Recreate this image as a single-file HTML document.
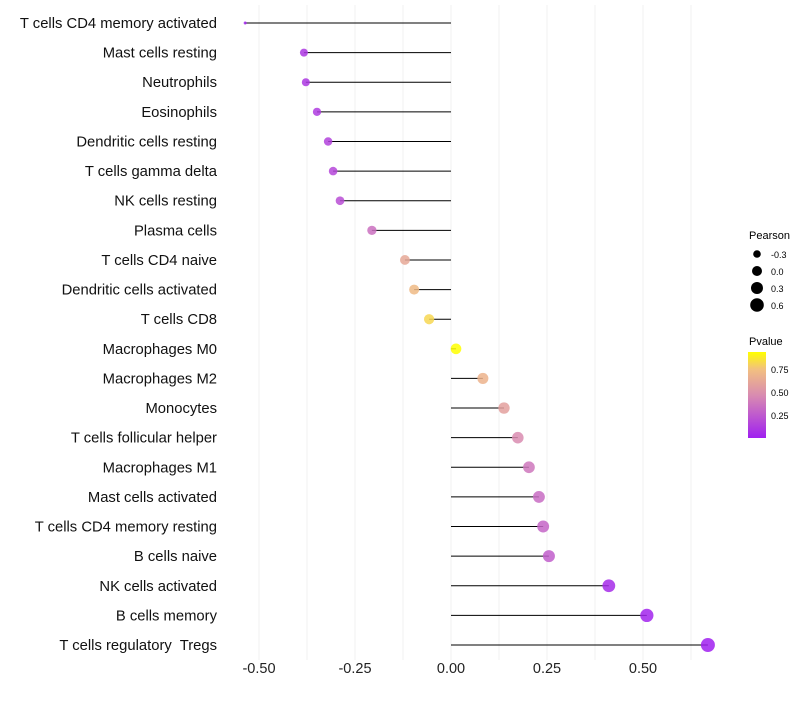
<!DOCTYPE html>
<html><head><meta charset="utf-8"><style>
body{margin:0;background:#fff}
svg text{font-family:"Liberation Sans",sans-serif;white-space:pre}
</style></head><body>
<svg id="chart" width="800" height="700" xmlns="http://www.w3.org/2000/svg">
<defs><linearGradient id="pg" x1="0" y1="1" x2="0" y2="0">
<stop offset="0" stop-color="#a020f0"/><stop offset="0.5" stop-color="#d98cb0"/><stop offset="0.8" stop-color="#f2c080"/><stop offset="1" stop-color="#ffff00"/>
</linearGradient></defs>
<g id="grid"></g><g id="marks"></g><g id="labels"></g>
<g>
<text x="749" y="239" font-size="11">Pearson</text>
<circle cx="757" cy="254" r="3.8"/><text x="771" y="258" font-size="9">-0.3</text>
<circle cx="757" cy="271" r="5"/><text x="771" y="275" font-size="9">0.0</text>
<circle cx="757" cy="288" r="6"/><text x="771" y="292" font-size="9">0.3</text>
<circle cx="757" cy="305" r="6.8"/><text x="771" y="309" font-size="9">0.6</text>
</g>
<g>
<text x="749" y="345" font-size="11">Pvalue</text>
<rect x="748" y="352" width="18" height="86" fill="url(#pg)"/>
<text x="771" y="373" font-size="9">0.75</text>
<text x="771" y="396" font-size="9">0.50</text>
<text x="771" y="419" font-size="9">0.25</text>
</g>
</svg>
<script>
const cells=["T cells CD4 memory activated","Mast cells resting","Neutrophils","Eosinophils","Dendritic cells resting","T cells gamma delta","NK cells resting","Plasma cells","T cells CD4 naive","Dendritic cells activated","T cells CD8","Macrophages M0","Macrophages M2","Monocytes","T cells follicular helper","Macrophages M1","Mast cells activated","T cells CD4 memory resting","B cells naive","NK cells activated","B cells memory","T cells regulatory  Tregs"];
const pearson=[-0.536,-0.383,-0.378,-0.349,-0.320,-0.307,-0.289,-0.206,-0.120,-0.096,-0.057,0.013,0.083,0.138,0.174,0.203,0.229,0.240,0.255,0.411,0.510,0.669];
const pvalue=[0.02,0.1,0.1,0.12,0.15,0.17,0.2,0.35,0.62,0.72,0.82,0.95,0.68,0.58,0.47,0.38,0.33,0.3,0.27,0.05,0.02,0.001];
const ticks=[-0.5,-0.25,0,0.25,0.5];
const tickLabels=["-0.50","-0.25","0.00","0.25","0.50"];
const NS="http://www.w3.org/2000/svg";
const x=v=>451+v*384;
const y=i=>23+i*(622/21);
const r=v=>v>=-0.383?Math.sqrt(16+31.4*(v+0.383)):Math.max(1.5,4-(-0.383-v)*16.3);
function lerp(a,b,t){return a.map((c,k)=>Math.round(c+(b[k]-c)*t));}
function col(p){const t=Math.min(1,Math.max(0,p/0.94));
 const s=[[0,[160,32,240]],[0.5,[217,140,176]],[0.8,[242,192,128]],[1,[255,255,0]]];
 for(let k=1;k<s.length;k++){if(t<=s[k][0]){const c=lerp(s[k-1][1],s[k][1],(t-s[k-1][0])/(s[k][0]-s[k-1][0]));return `rgb(${c})`;}}
 return "rgb(255,255,0)";}
function mk(tag,at,parent){const e=document.createElementNS(NS,tag);for(const k in at)e.setAttribute(k,at[k]);document.getElementById(parent).appendChild(e);return e;}
for(let v=-0.5;v<=0.626;v+=0.125){const g=mk("line",{x1:x(v),x2:x(v),y1:5,y2:660,stroke:"#f0f0f0","stroke-width":1},"grid");

}
ticks.forEach((t,i)=>{const e=mk("text",{x:x(t),y:673,"font-size":14.5,"text-anchor":"middle",fill:"#222"},"labels");e.textContent=tickLabels[i];

});
cells.forEach((c,i)=>{
 const l=mk("line",{x1:x(0),x2:x(pearson[i]),y1:y(i),y2:y(i),stroke:"#000","stroke-width":1},"marks");
 
 
 const p=mk("circle",{cx:x(pearson[i]),cy:y(i),r:r(pearson[i]),fill:col(pvalue[i]),"fill-opacity":0.85},"marks");
 
 
 const t=mk("text",{x:217,y:y(i)+5,"font-size":14.8,"text-anchor":"end",fill:"#111"},"labels");t.textContent=c;
 
 
});
</script>
</body></html>
